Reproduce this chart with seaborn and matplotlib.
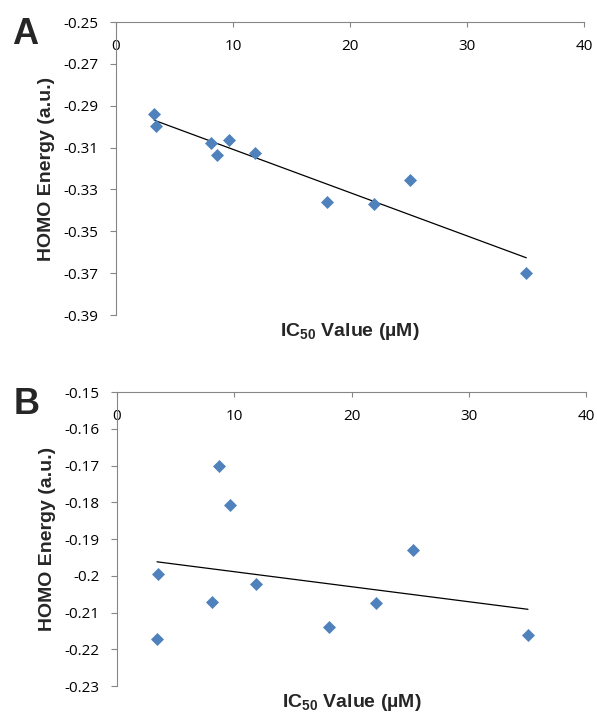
import matplotlib
matplotlib.use("Agg")
import matplotlib.pyplot as plt
import seaborn as sns
import pandas as pd
from matplotlib.ticker import FixedLocator, FixedFormatter

# IC50 values (µM) and HOMO energies (a.u.) for the two compound sets
ic50_a = [3.27, 3.39, 8.09, 8.65, 9.62, 11.84, 18.05, 22.09, 25.13, 35.07]
homo_a = [-0.2940, -0.2995, -0.3080, -0.3135, -0.3065, -0.3124,
          -0.3360, -0.3368, -0.3255, -0.3698]

ic50_b = [3.47, 3.41, 8.13, 8.67, 9.64, 11.86, 18.07, 22.08, 25.21, 35.05]
homo_b = [-0.1996, -0.2173, -0.2071, -0.1702, -0.1807, -0.2022,
          -0.2139, -0.2075, -0.1930, -0.2161]

x_ticks = [0, 10, 20, 30, 40]
x_tick_labels = ["0", "10", "20", "30", "40"]
y_ticks_a = [-0.25, -0.27, -0.29, -0.31, -0.33, -0.35, -0.37, -0.39]
y_tick_labels_a = ["-0.25", "-0.27", "-0.29", "-0.31", "-0.33", "-0.35", "-0.37", "-0.39"]
y_ticks_b = [-0.15, -0.16, -0.17, -0.18, -0.19, -0.20, -0.21, -0.22, -0.23]
y_tick_labels_b = ["-0.15", "-0.16", "-0.17", "-0.18", "-0.19", "-0.2", "-0.21", "-0.22", "-0.23"]

panel_letters = ["A", "B"]
x_label = "IC$_{50}$ Value (µM)"
y_label = "HOMO Energy (a.u.)"

sns.set_theme(style="white")
plt.rcParams["font.family"] = ["Liberation Sans", "DejaVu Sans"]
plt.rcParams["mathtext.fontset"] = "custom"
plt.rcParams["mathtext.rm"] = "Liberation Sans:bold"
plt.rcParams["mathtext.default"] = "rm"

MARKER_COLOR = "#4F81BD"
AXIS_COLOR = "#868686"

fig = plt.figure(figsize=(5.97, 7.13), dpi=100)
W, H = 597, 713
ax_a = fig.add_axes([116 / W, 1 - 315 / H, 468 / W, 293 / H])
ax_b = fig.add_axes([117 / W, 1 - 686 / H, 469 / W, 294 / H])

panels = [
    (ax_a, ic50_a, homo_a, y_ticks_a, y_tick_labels_a),
    (ax_b, ic50_b, homo_b, y_ticks_b, y_tick_labels_b),
]

for ax, xs, ys, yt, ytl in panels:
    df = pd.DataFrame({"ic50": xs, "homo": ys})
    sns.scatterplot(data=df, x="ic50", y="homo", ax=ax, marker="D", s=44,
                    color=MARKER_COLOR, edgecolor=MARKER_COLOR, linewidth=0,
                    zorder=3)
    sns.regplot(data=df, x="ic50", y="homo", ax=ax, scatter=False, ci=None,
                truncate=True, color="black", line_kws={"linewidth": 0.9},
                )

    ax.set_xlim(0, 40)
    ax.set_ylim(yt[-1], yt[0])

    # x axis runs along the top edge, labels sit just below it
    ax.xaxis.set_major_locator(FixedLocator(x_ticks))
    ax.xaxis.set_major_formatter(FixedFormatter(x_tick_labels))
    ax.tick_params(axis="x", top=True, bottom=False, labeltop=True,
                   labelbottom=False, direction="in", length=3.8,
                   width=0.8, color=AXIS_COLOR, pad=-12.5,
                   labelsize=11, labelcolor="black")
    for lbl in ax.get_xticklabels():
        lbl.set_fontfamily("Open Sans")
        lbl.set_verticalalignment("top")

    ax.yaxis.set_major_locator(FixedLocator(yt))
    ax.yaxis.set_major_formatter(FixedFormatter(ytl))
    ax.tick_params(axis="y", left=True, direction="out", length=4.5,
                   width=0.8, color=AXIS_COLOR, pad=8,
                   labelsize=11, labelcolor="black")
    for lbl in ax.get_yticklabels():
        lbl.set_fontfamily("Open Sans")

    for side in ["right", "bottom"]:
        ax.spines[side].set_visible(False)
    for side in ["left", "top"]:
        ax.spines[side].set_color(AXIS_COLOR)
        ax.spines[side].set_linewidth(0.8)

    ax.xaxis.set_label_position("bottom")
    ax.set_xlabel(x_label, fontsize=14, fontweight="bold", labelpad=4)
    ax.set_ylabel(y_label, fontsize=14, fontweight="bold", labelpad=6)
    ax.grid(False)

fig.text(12 / W, 1 - 44 / H, panel_letters[0], fontsize=26, fontweight="bold",
         ha="left", va="baseline")
fig.text(14 / W, 1 - 414 / H, panel_letters[1], fontsize=26, fontweight="bold",
         ha="left", va="baseline")

fig.savefig("out.png", dpi=100, facecolor="white")
